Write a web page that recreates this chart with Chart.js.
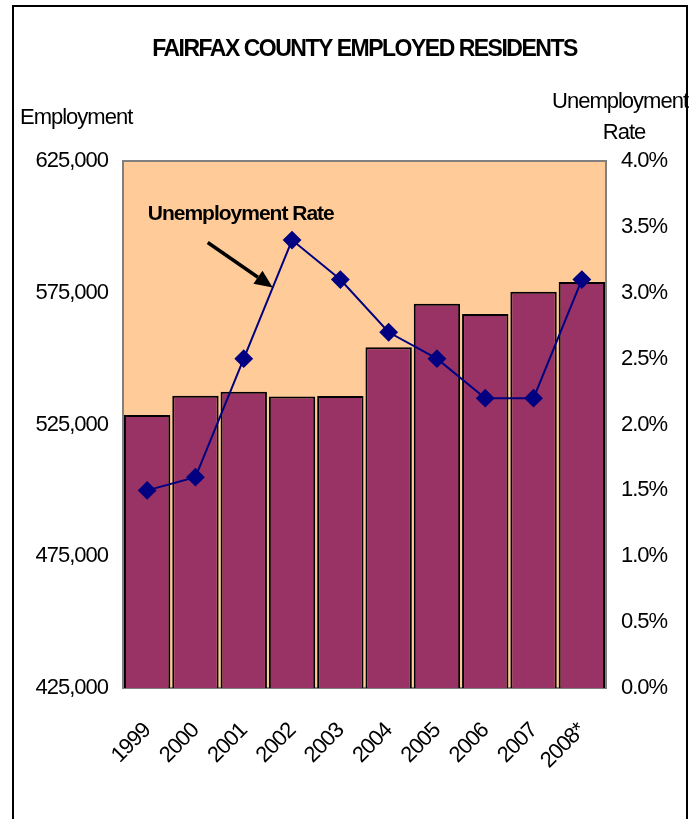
<!DOCTYPE html>
<html>
<head>
<meta charset="utf-8">
<script src="https://cdn.jsdelivr.net/npm/chart.js@4.4.1/dist/chart.umd.min.js"></script>
<style>
  html, body { margin: 0; padding: 0; background: #fff; }
  #wrap { position: relative; width: 696px; height: 819px; overflow: hidden; }
  #frame { position: absolute; left: 12px; top: 5px; width: 672px; height: 900px; border: 2.5px solid #000; }
  canvas { position: absolute; left: 0; top: 0; }
</style>
</head>
<body>
<div id="wrap">
  <div id="frame"></div>
  <canvas id="chart" width="696" height="819"></canvas>
</div>
<script>
const years = ['1999', '2000', '2001', '2002', '2003', '2004', '2005', '2006', '2007', '2008*']
const employed = [528600, 535900, 537400, 535600, 535800, 554300, 570800, 566900, 575400, 579100]
const unemploymentRate = [1.5, 1.6, 2.5, 3.4, 3.1, 2.7, 2.5, 2.2, 2.2, 3.1]
const employmentTicks = [425000, 475000, 525000, 575000, 625000]
const rateTicks = [0, 0.5, 1.0, 1.5, 2.0, 2.5, 3.0, 3.5, 4.0]

const FONT = "'Liberation Sans', Arial, sans-serif"

// tighter glyph spacing, like the narrow Arial look
const tightText = {
  id: 'tightText',
  beforeLayout(chart) { chart.ctx.letterSpacing = '-1px' },
  beforeDraw(chart) { chart.ctx.letterSpacing = '-1px' }
}

// peach plot background with grey frame
const plotBackground = {
  id: 'plotBackground',
  beforeDatasetsDraw(chart) {
    const { ctx, chartArea: a } = chart
    ctx.save()
    ctx.fillStyle = '#FFCC99'
    ctx.fillRect(a.left, a.top, a.right - a.left, a.bottom - a.top)
    ctx.strokeStyle = '#808080'
    ctx.lineWidth = 2
    ctx.strokeRect(a.left, a.top, a.right - a.left, a.bottom - a.top)
    ctx.restore()
  }
}

// title, axis titles and the arrow callout for the rate line
const labels = {
  id: 'labels',
  afterDraw(chart) {
    const { ctx, chartArea: a } = chart
    ctx.save()
    ctx.fillStyle = '#000'
    ctx.textBaseline = 'middle'

    ctx.font = 'bold 23px ' + FONT
    ctx.letterSpacing = '-1.5px'
    ctx.textAlign = 'center'
    ctx.fillText('FAIRFAX COUNTY EMPLOYED RESIDENTS', (a.left + a.right) / 2, 50)

    ctx.font = '22px ' + FONT
    ctx.letterSpacing = '-1px'
    ctx.textAlign = 'left'
    ctx.fillText('Employment', 20, 118)
    ctx.textAlign = 'right'
    ctx.fillText('Unemployment', 688, 102)
    ctx.textAlign = 'center'
    ctx.fillText('Rate', 624, 133)

    // arrow tip sits on the rate segment between 2001 and 2002
    const meta = chart.getDatasetMeta(0)
    const p0 = meta.data[2], p1 = meta.data[3]
    const t = 0.6
    const tipX = p0.x + (p1.x - p0.x) * t
    const tipY = p0.y + (p1.y - p0.y) * t
    const startX = tipX - 65, startY = tipY - 45
    const ang = Math.atan2(tipY - startY, tipX - startX)
    const headLen = 18, headW = 8
    const baseX = tipX - headLen * Math.cos(ang), baseY = tipY - headLen * Math.sin(ang)
    ctx.strokeStyle = '#000'
    ctx.lineWidth = 3.5
    ctx.beginPath()
    ctx.moveTo(startX, startY)
    ctx.lineTo(baseX, baseY)
    ctx.stroke()
    ctx.beginPath()
    ctx.moveTo(tipX, tipY)
    ctx.lineTo(baseX + headW * Math.sin(ang), baseY - headW * Math.cos(ang))
    ctx.lineTo(baseX - headW * Math.sin(ang), baseY + headW * Math.cos(ang))
    ctx.closePath()
    ctx.fill()

    ctx.font = 'bold 21px ' + FONT
    ctx.letterSpacing = '-1px'
    ctx.textAlign = 'left'
    ctx.fillText('Unemployment Rate', startX - 60, startY - 28)
    ctx.restore()
  }
}

new Chart(document.getElementById('chart'), {
  data: {
    labels: years,
    datasets: [
      {
        type: 'line',
        label: 'Unemployment Rate',
        data: unemploymentRate,
        yAxisID: 'y1',
        borderColor: '#000080',
        backgroundColor: '#000080',
        borderWidth: 2,
        pointStyle: 'rectRot',
        pointRadius: 8,
        pointBackgroundColor: '#000080',
        pointBorderColor: '#000080',
        tension: 0,
        order: 0
      },
      {
        type: 'bar',
        label: 'Employment',
        data: employed,
        yAxisID: 'y',
        backgroundColor: '#993366',
        borderColor: '#000',
        borderWidth: 2,
        barPercentage: 0.96,
        categoryPercentage: 1,
        order: 1
      }
    ]
  },
  options: {
    responsive: false,
    animation: false,
    layout: { padding: { top: 161, left: 0, right: 0, bottom: 0 } },
    plugins: {
      legend: { display: false },
      tooltip: { enabled: false }
    },
    scales: {
      x: {
        grid: { display: false },
        border: { display: false },
        ticks: {
          color: '#000',
          font: { family: FONT, size: 22 },
          minRotation: 45,
          maxRotation: 45,
          padding: 22,
          autoSkip: false
        },
        afterFit(scale) { scale.height = 131 }
      },
      y: {
        position: 'left',
        min: 425000,
        max: 625000,
        afterBuildTicks(scale) { scale.ticks = employmentTicks.map(v => ({ value: v })) },
        grid: { display: false },
        border: { display: false },
        ticks: {
          color: '#000',
          font: { family: FONT, size: 22 },
          padding: 7,
          callback: v => v.toLocaleString('en-US')
        },
        afterFit(scale) { scale.width = 123 }
      },
      y1: {
        position: 'right',
        min: 0,
        max: 4,
        afterBuildTicks(scale) { scale.ticks = rateTicks.map(v => ({ value: v })) },
        grid: { display: false },
        border: { display: false },
        ticks: {
          color: '#000',
          font: { family: FONT, size: 22 },
          padding: 7,
          callback: v => v.toFixed(1) + '%'
        },
        afterFit(scale) { scale.width = 90 }
      }
    }
  },
  plugins: [tightText, plotBackground, labels]
})
</script>
</body>
</html>
